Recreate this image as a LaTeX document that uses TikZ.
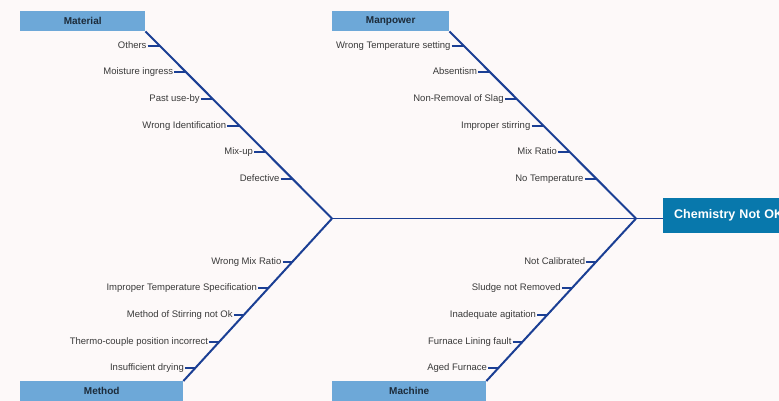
\documentclass[tikz,border=0pt]{standalone}
\usepackage{fontspec}
\setmainfont{Liberation Sans}
\usetikzlibrary{calc,positioning}
\definecolor{paper}{HTML}{FDF9F9}
\definecolor{catfill}{HTML}{6DA8D8}
\definecolor{headfill}{HTML}{0878AC}
\definecolor{bonecol}{HTML}{1B3F94}
\definecolor{ink}{HTML}{3A3A3A}
\definecolor{catink}{HTML}{1C2B3A}

\begin{document}
\begin{tikzpicture}[
  x=1pt, y=-1pt,
  category/.style={fill=catfill, inner sep=0pt, minimum height=20pt, anchor=north west,
    font=\fontsize{10}{12}\selectfont\bfseries, text=catink},
  effect/.style={fill=headfill, inner sep=0pt, inner xsep=11pt, minimum height=35pt, anchor=west,
    text width=128pt, align=left, font=\fontsize{12.5}{15}\selectfont\bfseries, text=white},
  cause/.style={inner sep=1pt, anchor=base east, font=\fontsize{9.5}{11}\selectfont, text=ink},
  bone/.style={draw=bonecol, line width=2pt},
  spine/.style={draw=bonecol, line width=1.6pt},
  twig/.style={draw=bonecol, line width=2pt}
]
  \fill[paper] (0,0) rectangle (779,401);
  \clip (0,0) rectangle (779,401);

  % category boxes and the effect
  \node[category, minimum width=125pt] (material) at (20,11) {Material};
  \node[category, minimum width=117pt] (manpower) at (332,11) {Manpower};
  \node[category, minimum width=163pt] (method) at (20,381) {Method};
  \node[category, minimum width=154pt] (machine) at (332,381) {Machine};
  \node[effect] (effect) at (663,215.5) {Chemistry Not OK};

  \coordinate (jl) at (332,218.5);
  \coordinate (jr) at (636,218.5);

  \draw[spine] (jl) -- (jr) -- (jr -| effect.west);
  \draw[bone] (material.south east) -- (jl);
  \draw[bone] (manpower.south east) -- (jr);
  \draw[bone] (method.north east) -- (jl);
  \draw[bone] (machine.north east) -- (jr);

  % Material
  \coordinate (mat1) at (intersection of material.south east--jl and 0,45.7--1,45.7);
  \coordinate (mat2) at (intersection of material.south east--jl and 0,72.4--1,72.4);
  \coordinate (mat3) at (intersection of material.south east--jl and 0,99--1,99);
  \coordinate (mat4) at (intersection of material.south east--jl and 0,125.7--1,125.7);
  \coordinate (mat5) at (intersection of material.south east--jl and 0,152.4--1,152.4);
  \coordinate (mat6) at (intersection of material.south east--jl and 0,179--1,179);
  \node[cause] (others) at ($(mat1)+(-12,2.5)$) {Others};
  \node[cause] (moisture) at ($(mat2)+(-12,2.5)$) {Moisture ingress};
  \node[cause] (pastuse) at ($(mat3)+(-12,2.5)$) {Past use-by};
  \node[cause] (wrongid) at ($(mat4)+(-12,2.5)$) {Wrong Identification};
  \node[cause] (mixup) at ($(mat5)+(-12,2.5)$) {Mix-up};
  \node[cause] (defective) at ($(mat6)+(-12,2.5)$) {Defective};
  \draw[twig] (others.east |- mat1) -- (mat1);
  \draw[twig] (moisture.east |- mat2) -- (mat2);
  \draw[twig] (pastuse.east |- mat3) -- (mat3);
  \draw[twig] (wrongid.east |- mat4) -- (mat4);
  \draw[twig] (mixup.east |- mat5) -- (mat5);
  \draw[twig] (defective.east |- mat6) -- (mat6);

  % Manpower
  \coordinate (man1) at (intersection of manpower.south east--jr and 0,45.7--1,45.7);
  \coordinate (man2) at (intersection of manpower.south east--jr and 0,72.4--1,72.4);
  \coordinate (man3) at (intersection of manpower.south east--jr and 0,99--1,99);
  \coordinate (man4) at (intersection of manpower.south east--jr and 0,125.7--1,125.7);
  \coordinate (man5) at (intersection of manpower.south east--jr and 0,152.4--1,152.4);
  \coordinate (man6) at (intersection of manpower.south east--jr and 0,179--1,179);
  \node[cause] (tempset) at ($(man1)+(-12,2.5)$) {Wrong Temperature setting};
  \node[cause] (absent) at ($(man2)+(-12,2.5)$) {Absentism};
  \node[cause] (slag) at ($(man3)+(-12,2.5)$) {Non-Removal of Slag};
  \node[cause] (stirring) at ($(man4)+(-12,2.5)$) {Improper stirring};
  \node[cause] (mixratio) at ($(man5)+(-12,2.5)$) {Mix Ratio};
  \node[cause] (notemp) at ($(man6)+(-12,2.5)$) {No Temperature};
  \draw[twig] (tempset.east |- man1) -- (man1);
  \draw[twig] (absent.east |- man2) -- (man2);
  \draw[twig] (slag.east |- man3) -- (man3);
  \draw[twig] (stirring.east |- man4) -- (man4);
  \draw[twig] (mixratio.east |- man5) -- (man5);
  \draw[twig] (notemp.east |- man6) -- (man6);

  % Method
  \coordinate (met1) at (intersection of method.north east--jl and 0,261.7--1,261.7);
  \coordinate (met2) at (intersection of method.north east--jl and 0,288.3--1,288.3);
  \coordinate (met3) at (intersection of method.north east--jl and 0,315--1,315);
  \coordinate (met4) at (intersection of method.north east--jl and 0,341.7--1,341.7);
  \coordinate (met5) at (intersection of method.north east--jl and 0,368.3--1,368.3);
  \node[cause] (wrongmix) at ($(met1)+(-10,2.5)$) {Wrong Mix Ratio};
  \node[cause] (tempspec) at ($(met2)+(-10,2.5)$) {Improper Temperature Specification};
  \node[cause] (stirmethod) at ($(met3)+(-10,2.5)$) {Method of Stirring not Ok};
  \node[cause] (thermo) at ($(met4)+(-10,2.5)$) {Thermo-couple position incorrect};
  \node[cause] (drying) at ($(met5)+(-10,2.5)$) {Insufficient drying};
  \draw[twig] (wrongmix.east |- met1) -- (met1);
  \draw[twig] (tempspec.east |- met2) -- (met2);
  \draw[twig] (stirmethod.east |- met3) -- (met3);
  \draw[twig] (thermo.east |- met4) -- (met4);
  \draw[twig] (drying.east |- met5) -- (met5);

  % Machine
  \coordinate (mac1) at (intersection of machine.north east--jr and 0,261.7--1,261.7);
  \coordinate (mac2) at (intersection of machine.north east--jr and 0,288.3--1,288.3);
  \coordinate (mac3) at (intersection of machine.north east--jr and 0,315--1,315);
  \coordinate (mac4) at (intersection of machine.north east--jr and 0,341.7--1,341.7);
  \coordinate (mac5) at (intersection of machine.north east--jr and 0,368.3--1,368.3);
  \node[cause] (calib) at ($(mac1)+(-10,2.5)$) {Not Calibrated};
  \node[cause] (sludge) at ($(mac2)+(-10,2.5)$) {Sludge not Removed};
  \node[cause] (agitation) at ($(mac3)+(-10,2.5)$) {Inadequate agitation};
  \node[cause] (lining) at ($(mac4)+(-10,2.5)$) {Furnace Lining fault};
  \node[cause] (aged) at ($(mac5)+(-10,2.5)$) {Aged Furnace};
  \draw[twig] (calib.east |- mac1) -- (mac1);
  \draw[twig] (sludge.east |- mac2) -- (mac2);
  \draw[twig] (agitation.east |- mac3) -- (mac3);
  \draw[twig] (lining.east |- mac4) -- (mac4);
  \draw[twig] (aged.east |- mac5) -- (mac5);
\end{tikzpicture}
\end{document}
